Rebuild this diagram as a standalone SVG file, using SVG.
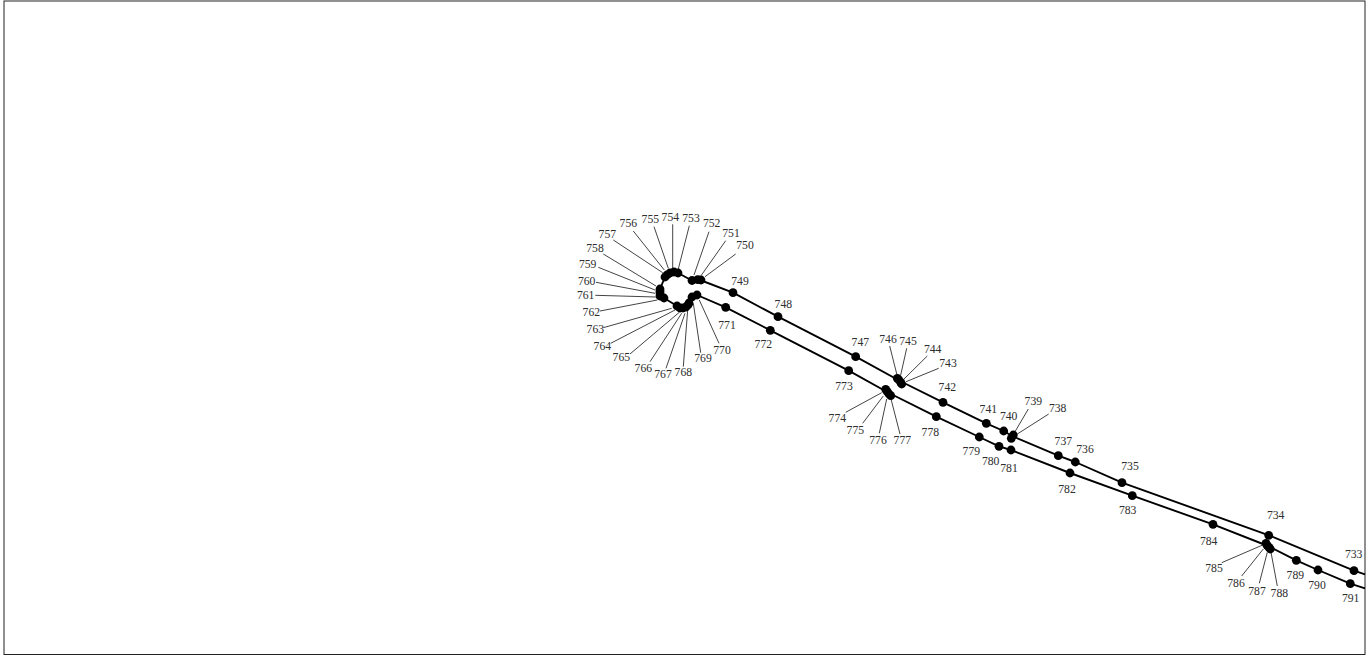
<svg xmlns="http://www.w3.org/2000/svg" width="1372" height="655" viewBox="0 0 1372 655">
<style>
text{font-family:"Liberation Serif","Times New Roman",serif;font-size:11.7px;fill:#2a2a2a;text-anchor:middle;dominant-baseline:central;opacity:.98}
circle{fill:#000;r:4.4px}
.rail{fill:none;stroke:#000;stroke-width:1.9;stroke-linejoin:round}
.lead{fill:none;stroke:#444;stroke-width:1}
</style>
<rect id="frame" x="4" y="1" width="1361" height="653.5" fill="#fff" stroke="#222" stroke-width="1"/>
<g id="connectors">
<path class="rail" d="M1365 574.3L1354 570.7L1269 535.3L1122 482.7L1075.3 462L1058.3 455.7L1012 436L1003.7 431L986.3 423.3L943 402.3L900 381L855.7 356.7L778 316.7L733 292.7L700 280L692 280.500L678 273L674 272L670 273L667 275L665 277L660 289L660 296L664 298L677 306L683 308L689 303L692 297L697 295L725.700 307.300L770.300 330.300L848.700 370.700L888 392.500L936.300 416.700L979.300 437L999 446.300L1011 450L1070 473L1132.300 495.700L1213 524.300L1268 546L1296.300 560.300L1318 570L1350.300 583.700L1365 588.300"/>
<path class="lead" d="M735.700 254L705 276.700M725.700 240.700L701 275.700M709 231.700L694 275M689.300 225.700L678.300 269M672.700 224.300L672.700 268.300M654 226.700L668.300 268.300M633.300 231L664.300 270M613.300 240L662.700 272.700M603.300 254L656 286M598.300 267.300L655 290M596 282.300L655 293.300M595.300 295.300L655.700 297M600 311L657.300 300M603.300 327.700L671.700 308.300M610.700 343.300L675 310M630 354L679.300 312.300M650 361.700L681.700 313.300M666 368.300L685 313.300M683.300 366.700L687.700 310M700.700 352.700L693.300 303.300M719 343.300L699.300 300"/>
<path class="lead" d="M889.700 346L897 375M906.700 348.300L900.700 375M927.300 356L904 379M938.700 368.300L906 381.700M1028.300 409L1015 431.700M1048.700 414L1017.300 434M845.700 412.300L881.700 392.700M862.700 423.300L883.300 396M879.300 433.300L886.700 399M900 434L891 399M1221.700 562.700L1262.700 545M1241.700 576L1263.300 549M1259.300 583.300L1267.300 552.300M1277.300 586L1271 552.300"/>
</g>
<g id="n733"><circle cx="1354" cy="570.700"/><text x="1353.700" y="554.300">733</text></g>
<g id="n734"><circle cx="1268.700" cy="535.300"/><text x="1275.700" y="515.300">734</text></g>
<g id="n735"><circle cx="1122" cy="482.700"/><text x="1130" y="466">735</text></g>
<g id="n736"><circle cx="1075.300" cy="462"/><text x="1085" y="449.300">736</text></g>
<g id="n737"><circle cx="1058.300" cy="455.700"/><text x="1063.300" y="441">737</text></g>
<g id="n738"><circle cx="1011.300" cy="438.300"/><text x="1057.700" y="408">738</text></g>
<g id="n739"><circle cx="1013.300" cy="435"/><text x="1033.300" y="401.300">739</text></g>
<g id="n740"><circle cx="1003.700" cy="431"/><text x="1008.700" y="416.300">740</text></g>
<g id="n741"><circle cx="986.300" cy="423.300"/><text x="988.300" y="409">741</text></g>
<g id="n742"><circle cx="943" cy="402.300"/><text x="947.300" y="387.300">742</text></g>
<g id="n743"><circle cx="901.700" cy="384"/><text x="948" y="363.700">743</text></g>
<g id="n744"><circle cx="900.700" cy="382.300"/><text x="932.700" y="349">744</text></g>
<g id="n745"><circle cx="899" cy="380"/><text x="908" y="341.300">745</text></g>
<g id="n746"><circle cx="897.300" cy="378.300"/><text x="888" y="339">746</text></g>
<g id="n747"><circle cx="855.700" cy="356.700"/><text x="860.300" y="342.700">747</text></g>
<g id="n748"><circle cx="778" cy="316.700"/><text x="783.300" y="304.300">748</text></g>
<g id="n749"><circle cx="733" cy="292.700"/><text x="740" y="281">749</text></g>
<g id="n750"><circle cx="701" cy="280"/><text x="745" y="245.700">750</text></g>
<g id="n751"><circle cx="697.700" cy="279.700"/><text x="731" y="233.700">751</text></g>
<g id="n752"><circle cx="692" cy="280.500"/><text x="711.700" y="223">752</text></g>
<g id="n753"><circle cx="678" cy="273"/><text x="691" y="218.300">753</text></g>
<g id="n754"><circle cx="674" cy="272"/><text x="670.300" y="217">754</text></g>
<g id="n755"><circle cx="670" cy="273"/><text x="650.300" y="219">755</text></g>
<g id="n756"><circle cx="667" cy="275"/><text x="628.300" y="223.700">756</text></g>
<g id="n757"><circle cx="665" cy="277"/><text x="607.300" y="234">757</text></g>
<g id="n758"><circle cx="660" cy="289"/><text x="595" y="248.300">758</text></g>
<g id="n759"><circle cx="660" cy="291"/><text x="587.700" y="264.700">759</text></g>
<g id="n760"><circle cx="660" cy="293"/><text x="586.700" y="281">760</text></g>
<g id="n761"><circle cx="660" cy="296"/><text x="585.700" y="295">761</text></g>
<g id="n762"><circle cx="664" cy="298"/><text x="591.300" y="312.300">762</text></g>
<g id="n763"><circle cx="677" cy="306"/><text x="595.300" y="329.700">763</text></g>
<g id="n764"><circle cx="680" cy="308"/><text x="602.300" y="346.700">764</text></g>
<g id="n765"><circle cx="683" cy="308"/><text x="621.300" y="357.700">765</text></g>
<g id="n766"><circle cx="686" cy="307"/><text x="643.300" y="368.300">766</text></g>
<g id="n767"><circle cx="688" cy="305"/><text x="663" y="374">767</text></g>
<g id="n768"><circle cx="689" cy="303"/><text x="683.300" y="372.700">768</text></g>
<g id="n769"><circle cx="692" cy="297"/><text x="703" y="358.700">769</text></g>
<g id="n770"><circle cx="697" cy="295"/><text x="722" y="350">770</text></g>
<g id="n771"><circle cx="725.700" cy="307.300"/><text x="727" y="325.300">771</text></g>
<g id="n772"><circle cx="770.300" cy="330.300"/><text x="763.300" y="344">772</text></g>
<g id="n773"><circle cx="848.700" cy="370.700"/><text x="844" y="386.300">773</text></g>
<g id="n774"><circle cx="885.700" cy="389.300"/><text x="837.300" y="418">774</text></g>
<g id="n775"><circle cx="887.300" cy="391.700"/><text x="855.300" y="430.700">775</text></g>
<g id="n776"><circle cx="889" cy="394"/><text x="878" y="440">776</text></g>
<g id="n777"><circle cx="890.700" cy="395.700"/><text x="902.300" y="440.700">777</text></g>
<g id="n778"><circle cx="936.300" cy="416.700"/><text x="930.300" y="432.300">778</text></g>
<g id="n779"><circle cx="979.300" cy="437"/><text x="971.300" y="451">779</text></g>
<g id="n780"><circle cx="999" cy="446.300"/><text x="990.700" y="461">780</text></g>
<g id="n781"><circle cx="1011" cy="450"/><text x="1009" y="468.300">781</text></g>
<g id="n782"><circle cx="1070" cy="473"/><text x="1067" y="489.300">782</text></g>
<g id="n783"><circle cx="1132.300" cy="495.700"/><text x="1127.700" y="510.300">783</text></g>
<g id="n784"><circle cx="1213" cy="524.300"/><text x="1208.700" y="541.300">784</text></g>
<g id="n785"><circle cx="1266" cy="543.300"/><text x="1214" y="568">785</text></g>
<g id="n786"><circle cx="1267.300" cy="545.700"/><text x="1236" y="583">786</text></g>
<g id="n787"><circle cx="1269" cy="547.300"/><text x="1257" y="591">787</text></g>
<g id="n788"><circle cx="1270.300" cy="549"/><text x="1279.300" y="593.700">788</text></g>
<g id="n789"><circle cx="1296.300" cy="560.300"/><text x="1295.300" y="575">789</text></g>
<g id="n790"><circle cx="1318" cy="570"/><text x="1317" y="585.300">790</text></g>
<g id="n791"><circle cx="1350.300" cy="583.700"/><text x="1350.700" y="598.300">791</text></g>
</svg>
